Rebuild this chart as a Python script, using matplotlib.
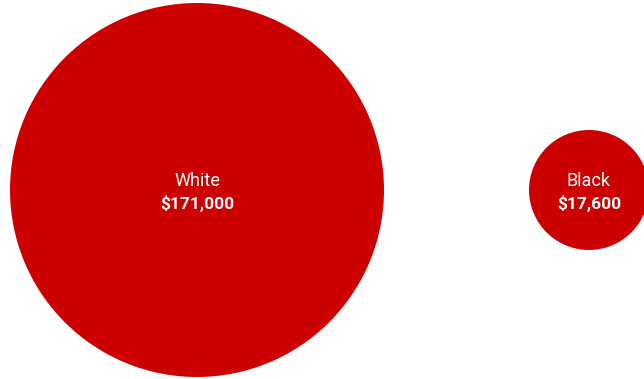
import numpy as np
import matplotlib.pyplot as plt
from matplotlib.patches import Circle

groups = ["White", "Black"]
wealth = [171000, 17600]
labels = ["$171,000", "$17,600"]

# layout (pixel space)
centers_x = [197, 589]
center_y = 190
max_r = 187
red = "#cc0000"

fig = plt.figure(figsize=(6.44, 3.79), dpi=100)
ax = fig.add_axes([0, 0, 1, 1])
ax.set_xlim(0, 644)
ax.set_ylim(379, 0)
ax.set_aspect("equal")
ax.axis("off")

for g, v, lab, cx in zip(groups, wealth, labels, centers_x):
    r = max_r * np.sqrt(v / max(wealth))
    ax.add_patch(Circle((cx, center_y), r, color=red, lw=0))
    ax.text(cx, center_y - 9, g, color="white", fontsize=13,
            family="Roboto", ha="center", va="center")
    ax.text(cx, center_y + 13, lab, color="white", fontsize=12.5,
            family="Roboto", weight="bold", ha="center", va="center")

fig.savefig("out.png", dpi=100)
